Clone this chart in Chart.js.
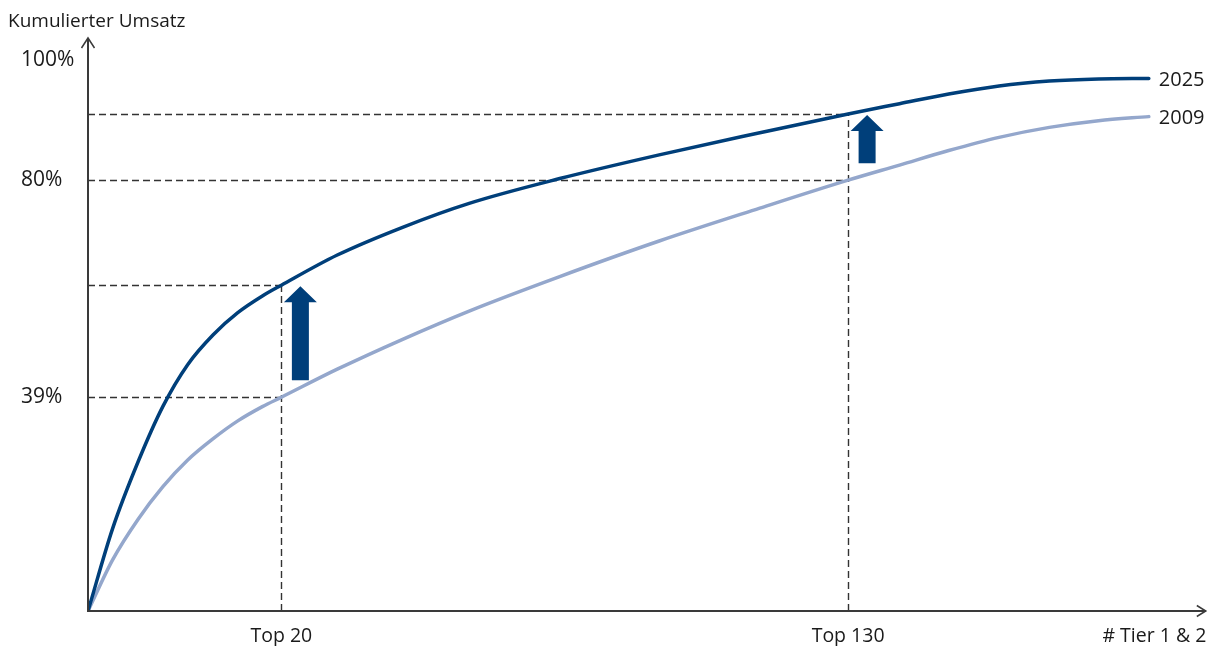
<!DOCTYPE html>
<html lang="de">
<head>
<meta charset="utf-8">
<title>Kumulierter Umsatz</title>
<script src="https://cdn.jsdelivr.net/npm/chart.js@4.4.1/dist/chart.umd.min.js"></script>
<style>
  html, body { margin: 0; padding: 0; background: #fff; }
  #wrap { width: 1221px; height: 646px; position: relative; }
</style>
</head>
<body>
<div id="wrap"><canvas id="umsatzChart"></canvas></div>
<script>
// Schematic curve: x = position along supplier ranking, y = cumulated revenue (axis units)
const xPos = [0, 2.2, 4.5, 6.7, 8.9, 11.2, 13.4, 15.6, 17.3, 22.3, 28.2, 34.1, 42.2, 51.1, 60.1, 68.0, 72.6, 77.0, 81.5, 86.0, 90.4, 94.9];
const y2025 = [0, 15.3, 27.8, 38.0, 45.7, 51.3, 55.4, 58.5, 60.5, 66.1, 71.3, 75.7, 80.3, 84.7, 88.8, 92.3, 94.2, 96.0, 97.5, 98.4, 98.8, 98.9];
const y2009 = [0, 9.5, 17.1, 23.1, 28.0, 32.0, 35.3, 37.95, 39.7, 44.9, 50.5, 55.7, 62.1, 68.7, 74.8, 80.0, 82.8, 85.5, 87.95, 89.8, 91.05, 91.8];

const seriesNames = ['2025', '2009'];

const xTickVals = [17.3, 68.0, 95.4];
const xTickLabels = ['Top 20', 'Top 130', '# Tier 1 & 2'];
const yTickVals = [39.7, 80, 102.3];
const yTickLabels = ['39%', '80%', '100%'];

const DARK = '#003f7a';
const LIGHT = '#94a7cc';
const TEXT = '#1a1a1a';
const FONT = "'Open Sans', sans-serif";

const toPoints = ys => xPos.map((x, i) => ({ x: x, y: ys[i] }));
const valueAt = (ys, x) => ys[xPos.indexOf(x)];

const schemePlugin = {
    id: 'scheme',
    beforeDatasetsDraw(chart) {
        const { ctx, scales: { x, y } } = chart;
        const x0 = x.getPixelForValue(0);
        const y0 = y.getPixelForValue(0);
        ctx.save();
        ctx.strokeStyle = '#333';
        ctx.lineWidth = 1.4;
        ctx.setLineDash([7, 4]);
        // guide lines at Top 20 and Top 130
        xTickVals.slice(0, 2).forEach(v => {
            const px = Math.round(x.getPixelForValue(v)) + 0.5;
            const top = y.getPixelForValue(valueAt(y2025, v));
            const low = y.getPixelForValue(valueAt(y2009, v));
            ctx.beginPath();
            ctx.moveTo(px, y0);
            ctx.lineTo(px, top);
            [top, low].forEach(py => {
                const yy = Math.round(py) + 0.5;
                ctx.moveTo(x0, yy);
                ctx.lineTo(px, yy);
            });
            ctx.stroke();
        });
        ctx.restore();
    },
    afterDatasetsDraw(chart) {
        const { ctx, scales: { x, y }, chartArea } = chart;
        const x0 = x.getPixelForValue(0);
        const y0 = y.getPixelForValue(0);
        ctx.save();

        // up arrows between the curves
        ctx.fillStyle = DARK;
        xTickVals.slice(0, 2).forEach(v => {
            const cx = x.getPixelForValue(v) + 19;
            const tip = y.getPixelForValue(valueAt(y2025, v)) + 1;
            const bottom = y.getPixelForValue(valueAt(y2009, v)) - 17;
            const headH = 16, headW = 16.5, shaftW = 8.5;
            ctx.beginPath();
            ctx.moveTo(cx, tip);
            ctx.lineTo(cx + headW, tip + headH);
            ctx.lineTo(cx + shaftW, tip + headH);
            ctx.lineTo(cx + shaftW, bottom);
            ctx.lineTo(cx - shaftW, bottom);
            ctx.lineTo(cx - shaftW, tip + headH);
            ctx.lineTo(cx - headW, tip + headH);
            ctx.closePath();
            ctx.fill();
        });

        // axes with open arrow heads
        ctx.strokeStyle = '#3a3a3a';
        ctx.lineWidth = 2;
        ctx.beginPath();
        ctx.moveTo(x0, chartArea.top);
        ctx.lineTo(x0, y0);
        ctx.lineTo(chartArea.right, y0);
        ctx.stroke();
        ctx.lineWidth = 1.5;
        ctx.beginPath();
        ctx.moveTo(x0 - 6.5, chartArea.top + 10);
        ctx.lineTo(x0, chartArea.top);
        ctx.lineTo(x0 + 6.5, chartArea.top + 10);
        ctx.moveTo(chartArea.right - 9, y0 - 5.5);
        ctx.lineTo(chartArea.right, y0);
        ctx.lineTo(chartArea.right - 9, y0 + 5.5);
        ctx.stroke();

        // series labels at the line ends
        ctx.fillStyle = TEXT;
        ctx.font = '20px ' + FONT;
        ctx.textBaseline = 'middle';
        ctx.textAlign = 'left';
        chart.data.datasets.forEach(ds => {
            const last = ds.data[ds.data.length - 1];
            ctx.fillText(ds.label, x.getPixelForValue(last.x) + 10, y.getPixelForValue(last.y) + 2);
        });

        // axis title
        ctx.font = '19px ' + FONT;
        ctx.textBaseline = 'alphabetic';
        ctx.fillText('Kumulierter Umsatz', 8, 27);
        ctx.restore();
    }
};

new Chart(document.getElementById('umsatzChart'), {
    type: 'line',
    data: {
        datasets: [
            {
                label: seriesNames[0],
                data: toPoints(y2025),
                borderColor: DARK,
                borderWidth: 3.5,
                pointRadius: 0,
                cubicInterpolationMode: 'monotone',
                borderCapStyle: 'round',
                borderJoinStyle: 'round',
                fill: false
            },
            {
                label: seriesNames[1],
                data: toPoints(y2009),
                borderColor: LIGHT,
                borderWidth: 3.5,
                pointRadius: 0,
                cubicInterpolationMode: 'monotone',
                borderCapStyle: 'round',
                borderJoinStyle: 'round',
                fill: false
            }
        ]
    },
    options: {
        responsive: true,
        maintainAspectRatio: false,
        animation: false,
        layout: { padding: { left: 21, top: 38, right: 14, bottom: 0 } },
        plugins: {
            legend: { display: false },
            tooltip: { enabled: false }
        },
        scales: {
            x: {
                type: 'linear',
                min: 0,
                max: 100,
                grid: { display: false, drawTicks: false },
                border: { display: false },
                afterBuildTicks: axis => { axis.ticks = xTickVals.map(v => ({ value: v })); },
                afterFit: axis => { axis.height = 35; },
                ticks: {
                    autoSkip: false,
                    maxRotation: 0,
                    padding: 14,
                    color: TEXT,
                    font: { family: FONT, size: 19.5 },
                    callback: (value, index) => xTickLabels[index]
                }
            },
            y: {
                type: 'linear',
                min: 0,
                max: 106.4,
                grid: { display: false, drawTicks: false },
                border: { display: false },
                afterBuildTicks: axis => { axis.ticks = yTickVals.map(v => ({ value: v })); },
                afterFit: axis => { axis.width = 67; },
                ticks: {
                    crossAlign: 'far',
                    color: TEXT,
                    font: { family: FONT, size: 21 },
                    callback: (value, index) => yTickLabels[index]
                }
            }
        }
    },
    plugins: [schemePlugin]
});
</script>
</body>
</html>
